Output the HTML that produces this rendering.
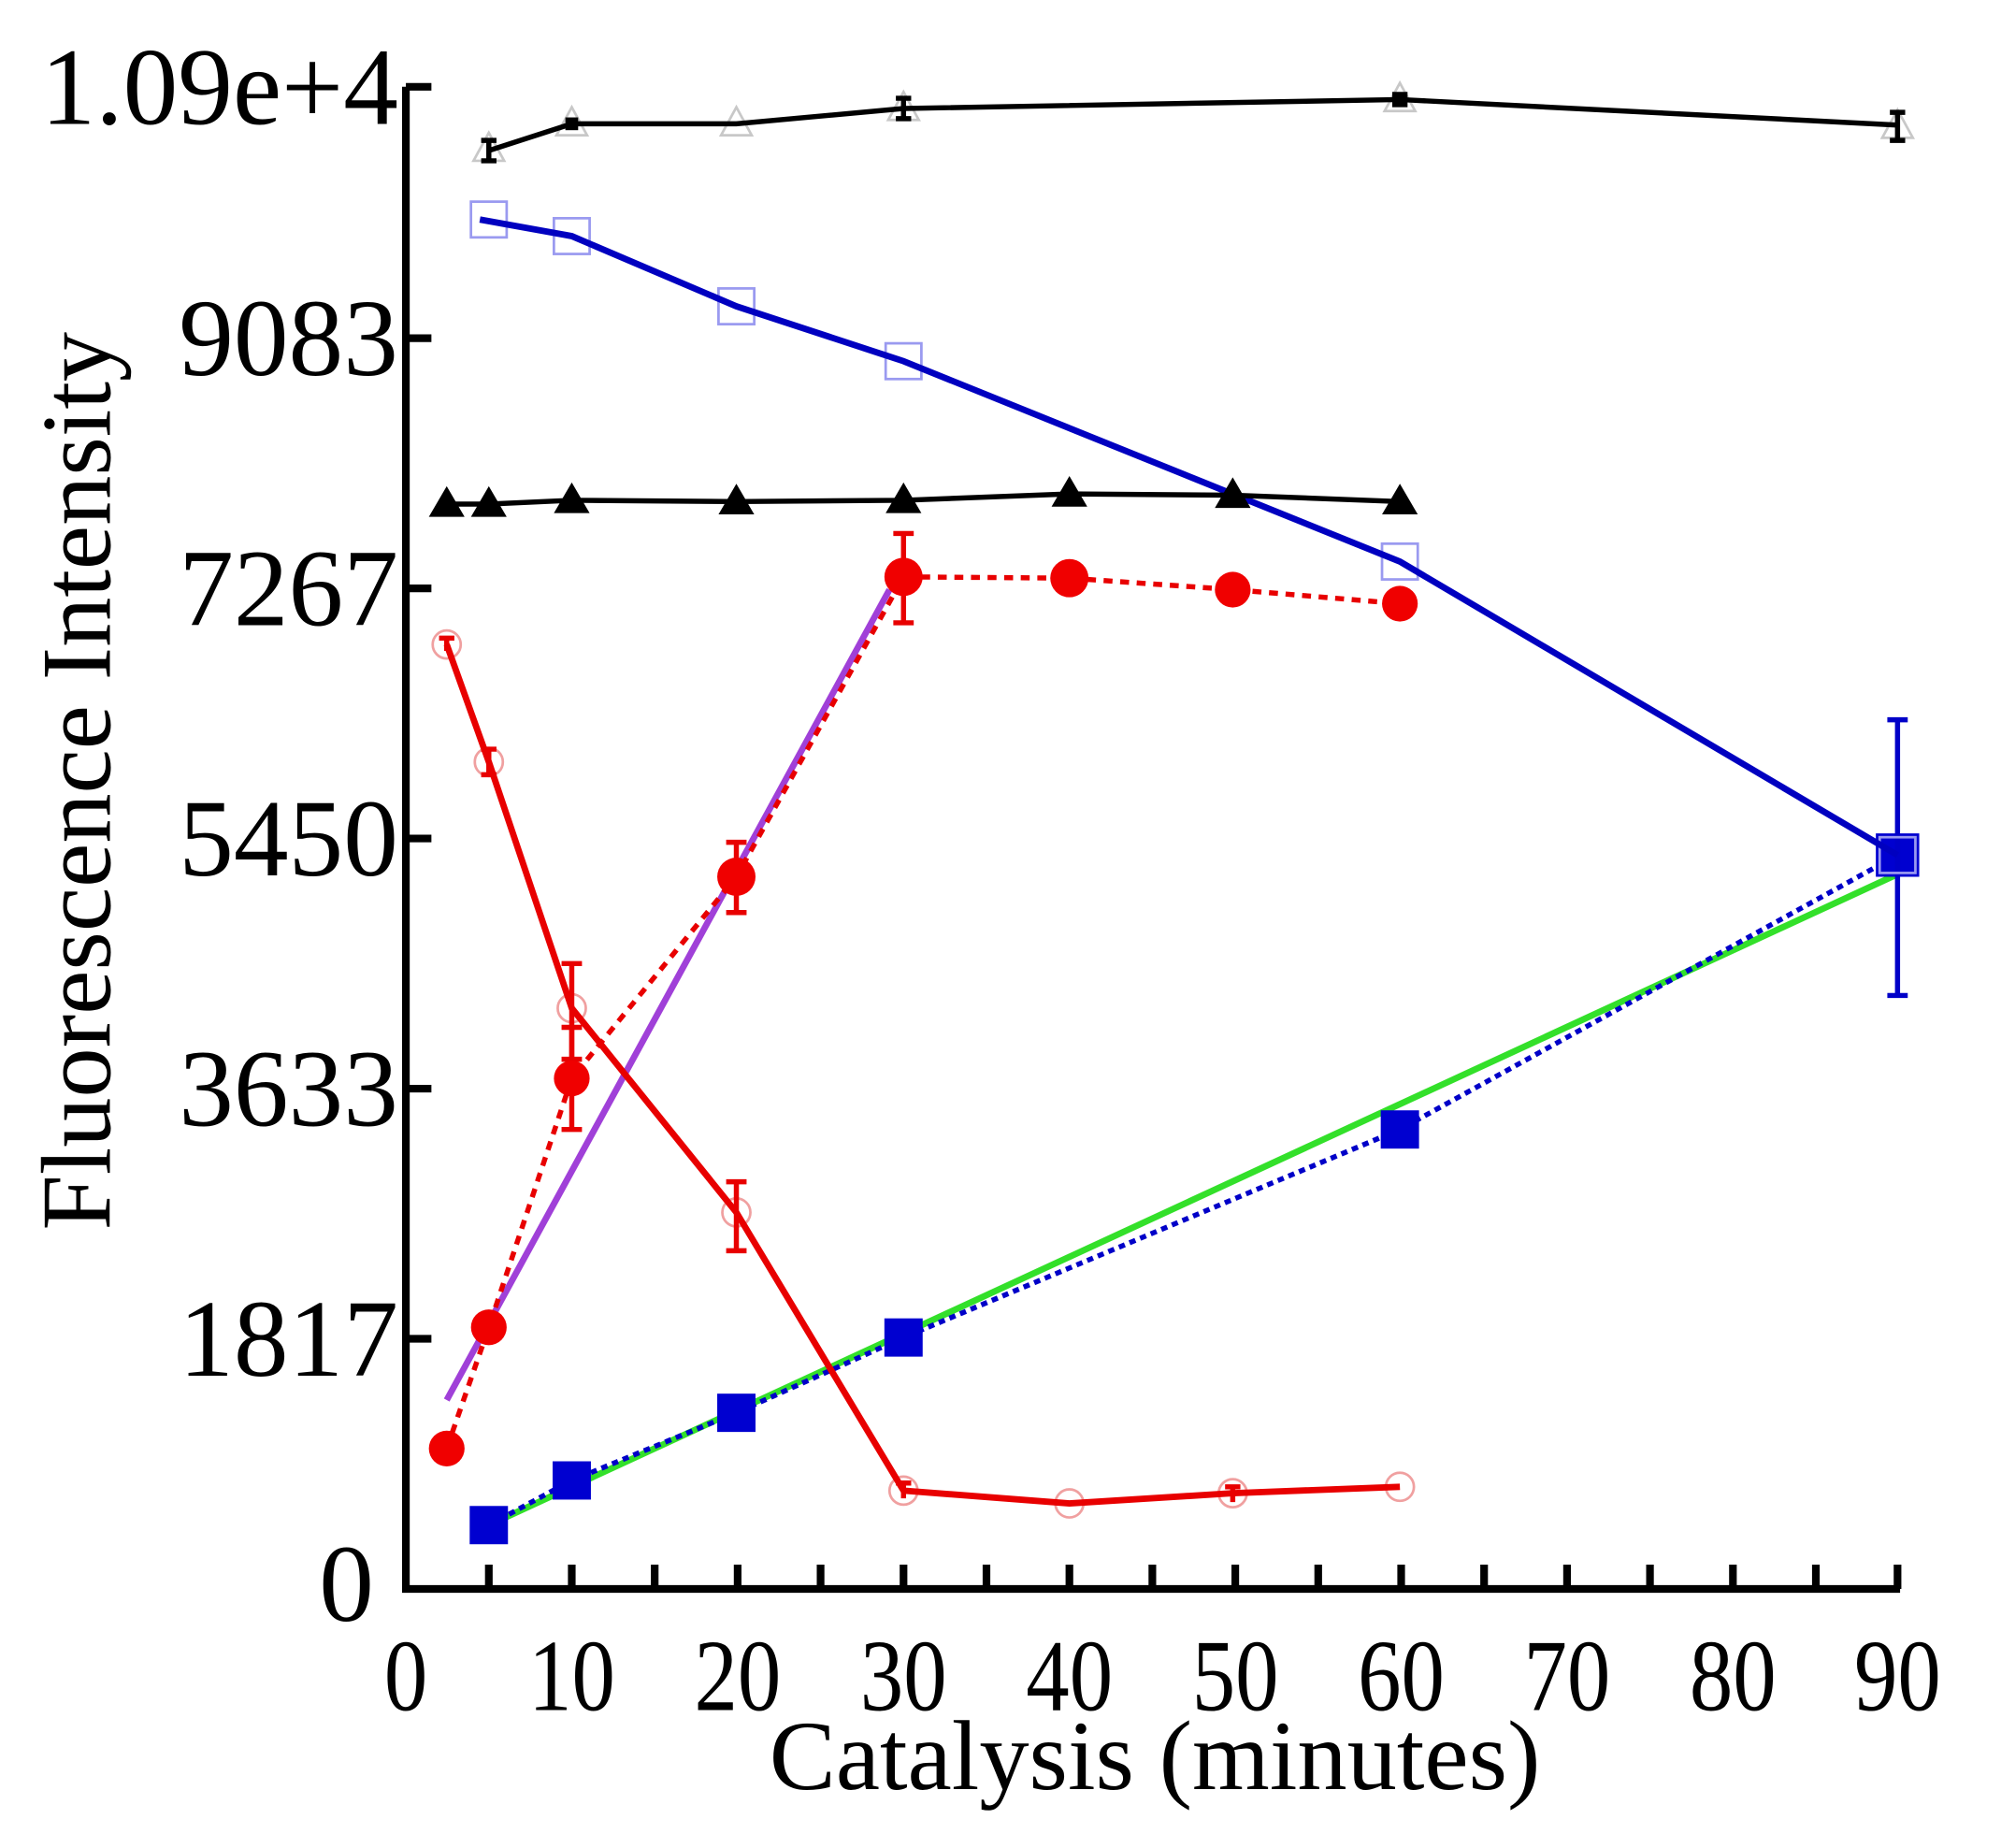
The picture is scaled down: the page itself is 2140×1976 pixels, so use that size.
<!DOCTYPE html>
<html><head><meta charset="utf-8"><style>
html,body{margin:0;padding:0;background:#fff;}
svg{display:block;}
text{font-family:"Liberation Serif",serif;fill:#000;}
</style></head><body>
<svg width="2140" height="1976" viewBox="0 0 1568 1448" xmlns="http://www.w3.org/2000/svg">
<!-- axes -->
<g stroke="#000" stroke-width="6" fill="none">
<path d="M318,68 L318,1245 L1489,1245"/>
<path d="M318,68 H338 M318,265 H338 M318,461 H338 M318,657 H338 M318,853 H338 M318,1049 H338"/>
<path d="M383,1245 V1226 M448,1245 V1226 M513,1245 V1226 M578,1245 V1226 M643,1245 V1226 M708,1245 V1226 M773,1245 V1226 M838,1245 V1226 M903,1245 V1226 M968,1245 V1226 M1033,1245 V1226 M1098,1245 V1226 M1163,1245 V1226 M1228,1245 V1226 M1293,1245 V1226 M1358,1245 V1226 M1423,1245 V1226 M1487,1245 V1226"/>
</g>
<g font-size="86" text-anchor="end">
<text x="312" y="97">1.09e+4</text>
<text x="312" y="294">9083</text>
<text x="312" y="490">7267</text>
<text x="312" y="686">5450</text>
<text x="312" y="882">3633</text>
<text x="312" y="1078">1817</text>
<text x="293" y="1270">0</text>
</g>
<g font-size="80" text-anchor="middle">
<text transform="translate(318,1340) scale(0.85,1)">0</text>
<text transform="translate(448,1340) scale(0.85,1)">10</text>
<text transform="translate(578,1340) scale(0.85,1)">20</text>
<text transform="translate(708,1340) scale(0.85,1)">30</text>
<text transform="translate(838,1340) scale(0.85,1)">40</text>
<text transform="translate(968,1340) scale(0.85,1)">50</text>
<text transform="translate(1098,1340) scale(0.85,1)">60</text>
<text transform="translate(1228,1340) scale(0.85,1)">70</text>
<text transform="translate(1358,1340) scale(0.85,1)">80</text>
<text transform="translate(1487,1340) scale(0.85,1)">90</text>
</g>
<text x="905" y="1402" font-size="78" text-anchor="middle">Catalysis (minutes)</text>
<text transform="translate(86,612) rotate(-90)" font-size="78" text-anchor="middle">Fluorescence Intensity</text>

<!-- green + purple fits -->
<path d="M383,1195 L1487,685" stroke="#33e02a" stroke-width="5" fill="none"/>
<path d="M350,1097 L697,462" stroke="#a040d8" stroke-width="5" fill="none"/>

<!-- blue dotted filled squares -->
<path d="M383,1195 L448,1160 L577,1107 L708,1048 L1097,885 L1487,670" stroke="#0000c8" stroke-width="4" stroke-dasharray="5,4" fill="none"/>
<g fill="#0000d0">
<rect x="368" y="1180" width="30" height="30"/><rect x="433" y="1145" width="30" height="30"/>
<rect x="562" y="1092" width="30" height="30"/><rect x="693" y="1033" width="30" height="30"/>
<rect x="1082" y="870" width="30" height="30"/><rect x="1470" y="653" width="34" height="34"/>
</g>
<path d="M1487,564 V780 M1479,564 H1495 M1479,780 H1495" stroke="#0000c8" stroke-width="4"/>

<!-- blue solid open squares -->
<g fill="none" stroke="#9a9af0" stroke-width="2">
<rect x="369" y="158" width="28" height="28"/><rect x="434" y="171" width="28" height="28"/>
<rect x="563" y="226" width="28" height="28"/><rect x="694" y="269" width="28" height="28"/>
<rect x="1083" y="426" width="28" height="28"/><rect x="1473" y="656" width="28" height="28"/>
</g>
<path d="M376,172 L448,185 L577,240 L708,283 L1097,440 L1487,670" stroke="#0000c0" stroke-width="5" fill="none"/>

<!-- black top series -->
<g fill="none" stroke="#c8c8c8" stroke-width="2">
<path d="M383,104 L371,126 L395,126Z M448,84 L436,106 L460,106Z M577,84 L565,106 L589,106Z M708,72 L696,94 L720,94Z M1097,65 L1085,87 L1109,87Z M1487,86 L1475,108 L1499,108Z"/>
</g>
<path d="M383,118 L448,97 L577,97 L708,85 L1097,78 L1487,98" stroke="#000" stroke-width="4" fill="none"/>
<path d="M383,110 V126 M377,110 H389 M377,126 H389 M708,77 V93 M702,77 H714 M702,93 H714 M1487,88 V110 M1481,88 H1493 M1481,110 H1493" stroke="#000" stroke-width="4"/>
<rect x="1091" y="72" width="12" height="12" fill="#000"/><rect x="443" y="92" width="10" height="10" fill="#000"/>

<!-- black filled triangles -->
<path d="M350,395 L383,395 L448,392 L577,393 L708,392 L838,387 L966,388 L1097,393" stroke="#000" stroke-width="4" fill="none"/>
<g fill="#000">
<path d="M350,381 L336,405 L364,405Z M383,381 L369,405 L397,405Z M448,378 L434,402 L462,402Z M577,379 L563,403 L591,403Z M708,378 L694,402 L722,402Z M838,373 L824,397 L852,397Z M966,374 L952,398 L980,398Z M1097,379 L1083,403 L1111,403Z"/>
</g>

<!-- red solid open circles -->
<g fill="none" stroke="#f0a0a0" stroke-width="2">
<circle cx="350" cy="505" r="11"/><circle cx="383" cy="597" r="11"/><circle cx="448" cy="790" r="11"/>
<circle cx="577" cy="950" r="11"/><circle cx="708" cy="1168" r="11"/><circle cx="838" cy="1178" r="11"/>
<circle cx="966" cy="1170" r="11"/><circle cx="1097" cy="1165" r="11"/>
</g>
<path d="M350,505 L383,597 L448,790 L577,950 L708,1168 L838,1178 L966,1170 L1097,1165" stroke="#e80000" stroke-width="5" fill="none"/>
<path d="M350,500 V510 M344,500 H356 M383,587 V607 M377,587 H389 M377,607 H389 M448,755 V830 M440,755 H456 M440,830 H456 M577,926 V980 M569,926 H585 M569,980 H585 M708,1162 V1174 M702,1162 H714 M966,1163 V1177 M960,1165 H972" stroke="#e80000" stroke-width="4"/>

<!-- red dashed filled circles -->
<path d="M350,1135 L383,1040 L448,845 L577,687 L708,452 L838,453 L966,462 L1097,473" stroke="#e80000" stroke-width="4" stroke-dasharray="7,6" fill="none"/>
<path d="M448,805 V885 M440,805 H456 M440,885 H456 M577,660 V715 M569,660 H585 M569,715 H585 M708,418 V488 M700,418 H716 M700,488 H716" stroke="#e80000" stroke-width="4"/>
<g fill="#f00000">
<circle cx="350" cy="1135" r="14"/><circle cx="383" cy="1040" r="14"/><circle cx="448" cy="845" r="14"/>
<circle cx="577" cy="687" r="15"/><circle cx="708" cy="452" r="15"/><circle cx="838" cy="453" r="15"/>
<circle cx="966" cy="462" r="14"/><circle cx="1097" cy="473" r="14"/>
</g>
</svg>
</body></html>
